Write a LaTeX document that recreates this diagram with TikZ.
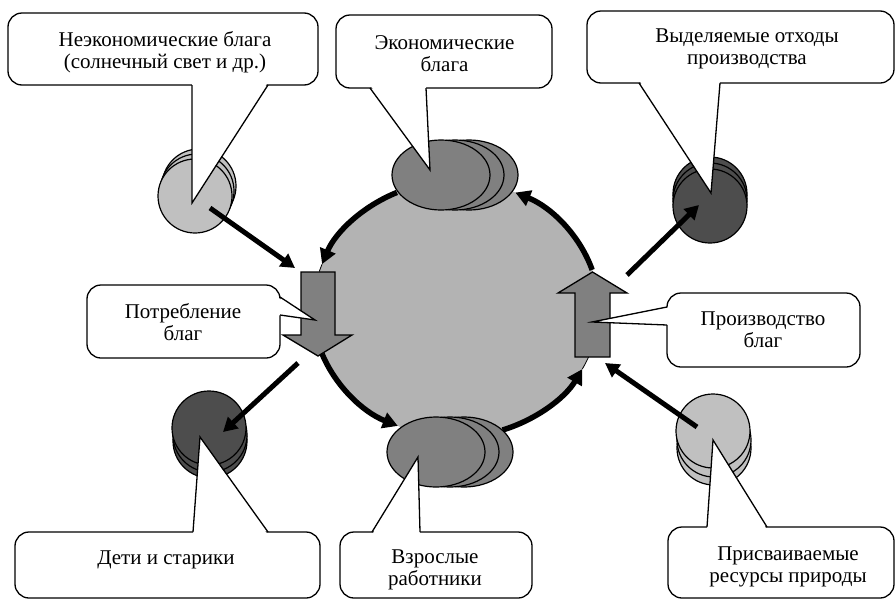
\documentclass[tikz,border=0pt]{standalone}
\usepackage{fontspec}
\setmainfont{Liberation Serif}
\usetikzlibrary{arrows.meta}
\definecolor{bigfill}{HTML}{B3B3B3}
\definecolor{midgray}{HTML}{808080}
\definecolor{lightcoin}{HTML}{C0C0C0}
\definecolor{darkcoin}{HTML}{4D4D4D}
\begin{document}
\begin{tikzpicture}[x=1pt,y=-1pt,
  callbox/.style={draw=black, line width=1.3pt, fill=white, rounded corners=14pt},
  wedgeline/.style={draw=black, line width=1.3pt, line join=miter},
  lbl/.style={font=\fontsize{21}{22}\selectfont, align=center, inner sep=0pt},
  fatarrow/.style={line width=5pt, -{Triangle[length=14pt,width=15pt]}},
  ringarrow/.style={line width=5.5pt, -{Triangle[length=15pt,width=16pt]}},
  coin/.style={draw=black, line width=1.2pt},
  blob/.style={draw=black, line width=1.2pt, fill=midgray},
  bigarrow/.style={draw=black, line width=1.3pt, fill=midgray, line join=miter}]
\useasboundingbox (0,0) rectangle (896,600);

% central ellipse
\coordinate (ctr) at (456,309);
\fill[bigfill] (ctr) ellipse[x radius=143, y radius=128];

% ring arcs
\draw[ringarrow] (ctr) ++(-114.4:143 and 128) arc[start angle=-114.4, end angle=-159.5, x radius=143, y radius=128];
\draw[line width=0.8pt] (ctr) ++(-159.5:143 and 128) arc[start angle=-159.5, end angle=-163, x radius=143, y radius=128];
\draw[ringarrow] (ctr) ++(159.5:143 and 128) arc[start angle=159.5, end angle=114, x radius=143, y radius=128];
\draw[ringarrow] (ctr) ++(71:143 and 128) arc[start angle=71, end angle=28, x radius=143, y radius=128];
\draw[line width=0.8pt] (ctr) ++(28:143 and 128) arc[start angle=28, end angle=22, x radius=143, y radius=128];
\draw[ringarrow] (ctr) ++(-17.8:143 and 128) arc[start angle=-17.8, end angle=-65.5, x radius=143, y radius=128];

% ellipse stacks
\filldraw[blob] (469,175) ellipse[x radius=49, y radius=35];
\filldraw[blob] (455,175) ellipse[x radius=49, y radius=35];
\filldraw[blob] (441,175) ellipse[x radius=49, y radius=35];
\filldraw[blob] (464,452) ellipse[x radius=49, y radius=35];
\filldraw[blob] (450,452) ellipse[x radius=49, y radius=35];
\filldraw[blob] (436,452) ellipse[x radius=49, y radius=35];

% big arrows
\filldraw[bigarrow] (301,272) -- (335,272) -- (335,335) -- (352,335) -- (318,356) -- (283,335) -- (301,335) -- cycle;
\filldraw[bigarrow] (575,357) -- (610,357) -- (610,293) -- (627,293) -- (592.5,272) -- (558,293) -- (575,293) -- cycle;

% coin stacks
\filldraw[coin, fill=lightcoin] (199,186) circle[radius=37];
\filldraw[coin, fill=lightcoin] (197,191) circle[radius=37];
\filldraw[coin, fill=lightcoin] (195,196) circle[radius=37];
\filldraw[coin, fill=darkcoin] (710,194) circle[radius=37];
\filldraw[coin, fill=darkcoin] (710,200) circle[radius=37];
\filldraw[coin, fill=darkcoin] (710,206) circle[radius=37];
\filldraw[coin, fill=darkcoin] (210,441) circle[radius=37];
\filldraw[coin, fill=darkcoin] (210,435) circle[radius=37];
\filldraw[coin, fill=darkcoin] (209,428) circle[radius=37];
\filldraw[coin, fill=lightcoin] (714,448) circle[radius=37];
\filldraw[coin, fill=lightcoin] (714,440) circle[radius=37];
\filldraw[coin, fill=lightcoin] (713,431) circle[radius=37];

% straight arrows
\coordinate (a1s) at (210,208); \coordinate (a1e) at (295,268);
\coordinate (a2s) at (298,363); \coordinate (a2e) at (223,432);
\coordinate (a3s) at (627,275); \coordinate (a3e) at (699,205);
\coordinate (a4s) at (697,427); \coordinate (a4e) at (605,363);
\draw[fatarrow] (a1s) -- (a1e);
\draw[fatarrow] (a2s) -- (a2e);
\draw[fatarrow] (a3s) -- (a3e);
\draw[fatarrow] (a4s) -- (a4e);

% callouts
% 1
\draw[callbox] (8,13) rectangle (318,85);
\coordinate (p1a) at (192,85); \coordinate (p1t) at (192,203); \coordinate (p1b) at (268,85);
\fill[white] (192,82) -- (p1t) -- (268,82) -- cycle;
\draw[wedgeline] (p1a) -- (p1t) -- (p1b);
\node[lbl] (t1) at (165,52.5) {Неэкономические блага\\(солнечный свет и др.)};
% 2
\draw[callbox] (336,15) rectangle (552,88);
\coordinate (p2a) at (370,88); \coordinate (p2t) at (430,170); \coordinate (p2b) at (426,88);
\fill[white] (370,85) -- (p2t) -- (426,85) -- cycle;
\draw[wedgeline] (p2a) -- (p2t) -- (p2b);
\node[lbl] (t2) at (444.5,54) {Экономические\\блага};
% 3
\draw[callbox] (587,11) rectangle (894,83);
\coordinate (p3a) at (639,83); \coordinate (p3t) at (711,193); \coordinate (p3b) at (720,83);
\fill[white] (639,80) -- (p3t) -- (720,80) -- cycle;
\draw[wedgeline] (p3a) -- (p3t) -- (p3b);
\node[lbl] (t3) at (747,49) {Выделяемые отходы\\производства};
% 4
\draw[callbox] (87,285) rectangle (280,358);
\coordinate (p4a) at (280,297); \coordinate (p4t) at (315,320); \coordinate (p4b) at (280,315);
\fill[white] (277,297) -- (p4t) -- (277,315) -- cycle;
\draw[wedgeline] (p4a) -- (p4t) -- (p4b);
\node[lbl] (t4) at (183,322.3) {Потребление\\благ};
% 5
\draw[callbox] (667,293) rectangle (860,367);
\coordinate (p5a) at (667,307); \coordinate (p5t) at (592,322); \coordinate (p5b) at (667,325);
\fill[white] (670,307) -- (p5t) -- (670,325) -- cycle;
\draw[wedgeline] (p5a) -- (p5t) -- (p5b);
\node[lbl] (t5) at (763,330) {Производство\\благ};
% 6
\draw[callbox] (15,532) rectangle (320,598);
\coordinate (p6a) at (193,532); \coordinate (p6t) at (200,437); \coordinate (p6b) at (268,532);
\fill[white] (193,535) -- (p6t) -- (268,535) -- cycle;
\draw[wedgeline] (p6a) -- (p6t) -- (p6b);
\node[lbl] (t6) at (166,560) {Дети и старики};
% 7
\draw[callbox] (340,532) rectangle (532,598);
\coordinate (p7a) at (372,532); \coordinate (p7t) at (418,457); \coordinate (p7b) at (420,532);
\fill[white] (372,535) -- (p7t) -- (420,535) -- cycle;
\draw[wedgeline] (p7a) -- (p7t) -- (p7b);
\node[lbl] (t7) at (435,570) {Взрослые\\работники};
% 8
\draw[callbox] (668,527) rectangle (894,598);
\coordinate (p8a) at (707,527); \coordinate (p8t) at (713,440); \coordinate (p8b) at (767,527);
\fill[white] (707,530) -- (p8t) -- (767,530) -- cycle;
\draw[wedgeline] (p8a) -- (p8t) -- (p8b);
\node[lbl] (t8) at (788,567) {Присваиваемые\\ресурсы природы};
\end{tikzpicture}
\end{document}
